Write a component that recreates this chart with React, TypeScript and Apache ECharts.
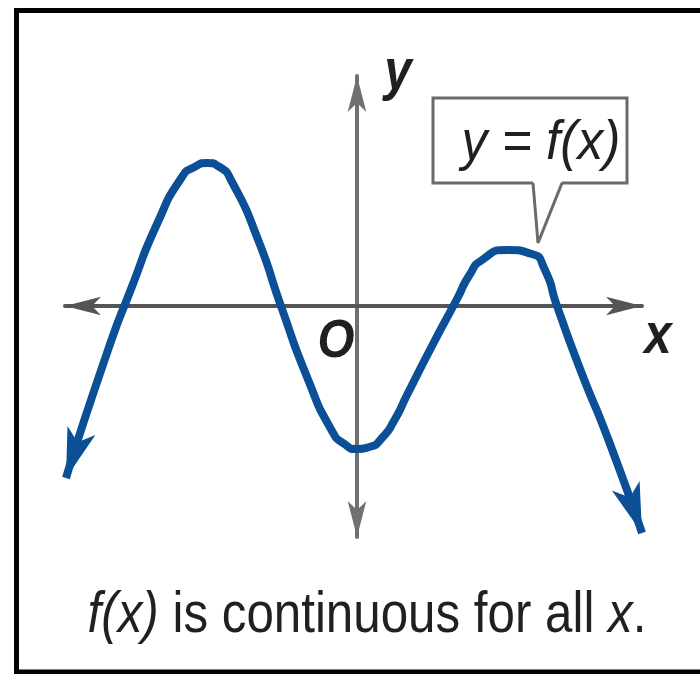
import React, { useEffect, useRef } from "react";
import * as echarts from "echarts";

// Curve points (x, y in axis units)
const curveX = [-5.82, -5.0, -4.5, -4.0, -3.5, -3.25, -3.0, -2.75, -2.5, -2.0, -1.5, -1.0, -0.5, -0.25, 0, 0.25, 0.5, 0.75, 1.0, 1.5, 2.0, 2.25, 2.5, 3.0, 3.5, 3.75, 4.0, 4.5, 5.0, 5.7];
const curveY = [-3.44, -0.94, 0.39, 1.64, 2.58, 2.78, 2.86, 2.78, 2.48, 1.38, -0.06, -1.42, -2.5, -2.76, -2.86, -2.82, -2.64, -2.28, -1.78, -0.8, 0.14, 0.62, 0.92, 1.12, 1.04, 0.74, 0.0, -1.36, -2.6, -4.54];
const arrowRotate = [162, -161];

const xRange = [-5.84, 5.7];
const yRange = [-4.62, 4.6];

const axisTitleX = "x";
const axisTitleY = "y";
const originLabel = "O";
const calloutText = "y = f(x)";
const captionParts = ["f(x)", " is continuous for all ", "x", "."];

const FONT = "'Liberation Sans', Arial, sans-serif";

export default function App() {
  const ref = useRef<HTMLDivElement>(null);
  useEffect(() => {
    if (!ref.current) return;
    const chart = echarts.init(ref.current, null, { renderer: "svg" });
    const last = curveX.length - 1;
    const data = curveX.map((x, i) => {
      if (i === 0 || i === last) {
        return {
          value: [x, curveY[i]],
          symbol: "arrow",
          symbolSize: [22, 50],
          symbolRotate: i === 0 ? arrowRotate[0] : arrowRotate[1],
          itemStyle: { color: "#0b4f96", borderWidth: 0 },
        };
      }
      return { value: [x, curveY[i]] };
    });
    const axisStyle = (color: string) => ({
      show: true,
      onZero: true,
      symbol: ["arrow", "arrow"],
      symbolSize: [14, 36],
      lineStyle: { color, width: 4 },
    });
    chart.setOption({
      animation: false,
      backgroundColor: "#ffffff",
      grid: { left: 65, right: 58, top: 76, bottom: 137 },
      xAxis: {
        type: "value",
        min: xRange[0],
        max: xRange[1],
        axisLine: axisStyle("#555555"),
        axisTick: { show: false },
        axisLabel: { show: false },
        splitLine: { show: false },
      },
      yAxis: {
        type: "value",
        min: yRange[0],
        max: yRange[1],
        axisLine: axisStyle("#707070"),
        axisTick: { show: false },
        axisLabel: { show: false },
        splitLine: { show: false },
      },
      series: [
        {
          type: "line",
          data,
          smooth: 0.65,
          clip: false,
          symbol: "none",
          showSymbol: true,
          lineStyle: { color: "#0b4f96", width: 8 },
          itemStyle: { color: "#0b4f96" },
          z: 3,
        },
      ],
      graphic: [
        {
          type: "rect",
          shape: { x: 16.5, y: 10.5, width: 700, height: 661.5 },
          style: { fill: "none", stroke: "#000000", lineWidth: 5 },
          z: 10,
        },
        {
          type: "rect",
          shape: { x: 433, y: 98, width: 194, height: 85 },
          style: { fill: "#ffffff", stroke: "#6a6a6a", lineWidth: 3 },
          z: 10,
        },
        {
          type: "polygon",
          shape: { points: [[533, 181], [538, 243], [562, 181]] },
          style: { fill: "#ffffff", stroke: "none" },
          z: 11,
        },
        {
          type: "polyline",
          shape: { points: [[533, 183], [538, 243], [562, 183]] },
          style: { fill: "none", stroke: "#6a6a6a", lineWidth: 3 },
          z: 11,
        },
        {
          type: "text",
          x: 541,
          y: 139,
          scaleX: 0.92,
          style: {
            text: calloutText,
            font: `italic 56px ${FONT}`,
            fill: "#231f20",
            align: "center",
            verticalAlign: "middle",
          },
          z: 12,
        },
        {
          type: "text",
          x: 398,
          y: 69,
          scaleX: 0.85,
          style: {
            text: axisTitleY,
            font: `italic bold 58px ${FONT}`,
            fill: "#231f20",
            align: "center",
            verticalAlign: "middle",
          },
          z: 12,
        },
        {
          type: "text",
          x: 336,
          y: 338,
          scaleX: 0.88,
          style: {
            text: originLabel,
            font: `italic bold 54px ${FONT}`,
            fill: "#231f20",
            align: "center",
            verticalAlign: "middle",
          },
          z: 12,
        },
        {
          type: "text",
          x: 658,
          y: 333,
          scaleX: 0.85,
          style: {
            text: axisTitleX,
            font: `italic bold 58px ${FONT}`,
            fill: "#231f20",
            align: "center",
            verticalAlign: "middle",
          },
          z: 12,
        },
        {
          type: "text",
          x: 367,
          y: 612,
          scaleX: 0.85,
          style: {
            text: `{i|${captionParts[0]}}{n|${captionParts[1]}}{i|${captionParts[2]}}{n|${captionParts[3]}}`,
            align: "center",
            verticalAlign: "middle",
            rich: {
              i: {
                font: `italic 58px ${FONT}`,
                fill: "#231f20",
              },
              n: {
                font: `58px ${FONT}`,
                fill: "#231f20",
              },
            },
          },
          z: 12,
        },
      ],
    });
    return () => chart.dispose();
  }, []);
  return (
    <div
      ref={ref}
      style={{ position: "absolute", left: 0, top: 0, width: 700, height: 674 }}
    />
  );
}
